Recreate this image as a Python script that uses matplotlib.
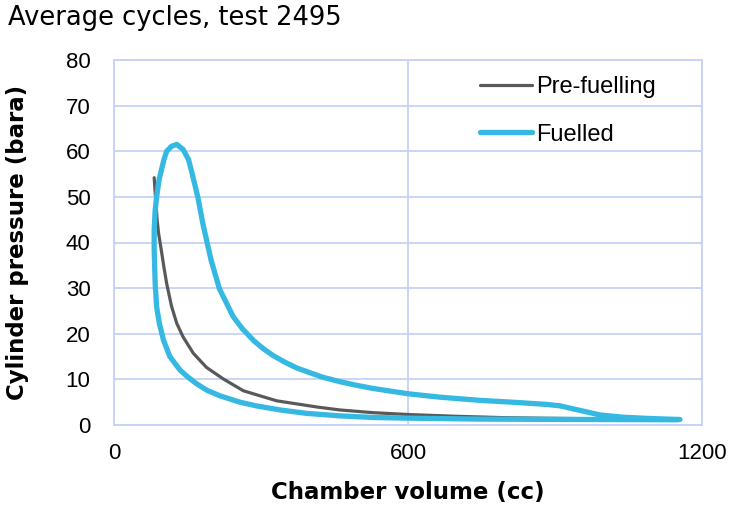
import matplotlib
matplotlib.use("Agg")
import matplotlib.pyplot as plt
from matplotlib.lines import Line2D

# ---- data ----
pre_volume = [82, 84, 86, 88, 91, 94, 97, 102, 107.5, 117.5, 128, 141, 162, 189, 223,
              264, 332, 417, 461, 529, 600, 700, 800, 900, 1000, 1100, 1150]
pre_pressure = [54.2, 51, 48, 45, 42, 40, 38, 34.5, 31, 26, 22.3, 19.3, 15.7, 12.6, 10.1,
                7.5, 5.3, 3.9, 3.3, 2.7, 2.3, 1.9, 1.6, 1.45, 1.35, 1.25, 1.2]

fuel_volume = [1150, 1000, 850, 743, 600, 529, 461, 393, 339, 290, 257, 216, 190, 169,
               152, 135, 114, 101, 92.5, 87, 84, 82, 82, 84, 87, 92, 97, 102, 107.5,
               117.5, 128, 141, 152, 159, 171, 181, 190, 198, 215, 243, 262, 285, 305,
               325, 350, 373, 425, 461, 495, 529, 600, 665, 747, 820, 884, 910, 951,
               992, 1040, 1088, 1155]
fuel_pressure = [1.15, 1.2, 1.25, 1.3, 1.5, 1.65, 2.0, 2.55, 3.3, 4.2, 5.0, 6.4, 7.6, 9.0,
                 10.4, 12.0, 15, 18.6, 22.3, 25.9, 31, 38.4, 42.8, 47, 50, 53.8, 56, 58.2,
                 60, 61.1, 61.5, 60.4, 58.2, 55.3, 50, 44.3, 40, 36.2, 29.9, 23.8, 21.1,
                 18.5, 16.7, 15.2, 13.7, 12.5, 10.5, 9.5, 8.7, 8.0, 6.85, 6.1, 5.4, 4.95,
                 4.5, 4.2, 3.2, 2.2, 1.7, 1.45, 1.2]

x_ticks = [0, 600, 1200]
y_ticks = [0, 10, 20, 30, 40, 50, 60, 70, 80]

title = "Average cycles, test 2495"
x_label = "Chamber volume (cc)"
y_label = "Cylinder pressure (bara)"
series_names = ["Pre-fuelling", "Fuelled"]

# ---- style ----
grid_col = "#c5d2f7"
gray = "#595959"
blue = "#35b9e2"
tick_font = "Liberation Sans"
label_font = "DejaVu Sans"

fig = plt.figure(figsize=(7.35, 5.07), dpi=100)
ax = fig.add_axes([114/735, 1-425/507, (702-114)/735, (425-60)/507])

ax.plot(pre_volume, pre_pressure, color=gray, lw=2.3, solid_capstyle="round",
        solid_joinstyle="round", zorder=3)
ax.plot(fuel_volume, fuel_pressure, color=blue, lw=3.8, solid_capstyle="round",
        solid_joinstyle="round", zorder=4)

ax.set_xlim(0, 1200)
ax.set_ylim(0, 80)
ax.set_xticks(x_ticks)
ax.set_yticks(y_ticks)
ax.grid(True, color=grid_col, lw=1.3, zorder=0)
for s in ax.spines.values():
    s.set_color(grid_col)
    s.set_linewidth(1.3)
ax.tick_params(length=0, labelsize=16, colors="black")
ax.tick_params(axis="x", pad=13)
ax.tick_params(axis="y", pad=17)
for lbl in ax.get_xticklabels() + ax.get_yticklabels():
    lbl.set_fontfamily(tick_font)

handles = [Line2D([0], [0], color=gray, lw=2.3, solid_capstyle="round"),
           Line2D([0], [0], color=blue, lw=3.8, solid_capstyle="round")]
leg = ax.legend(handles, series_names, loc="upper right", frameon=False,
                prop={"family": tick_font, "size": 17}, handlelength=2.2,
                handletextpad=0.2, labelspacing=1.08,
                bbox_to_anchor=(0.958, 1.014))

fig.text(8/735, 1-18/507, title, fontsize=18.5, family=label_font, va="center", ha="left")
fig.text(408/735, 1-492/507, x_label, fontsize=16.5, family=label_font, weight="bold",
         va="center", ha="center")
fig.text(18/735, 1-242/507, y_label, fontsize=16.5, family=label_font, weight="bold",
         va="center", ha="center", rotation=90)

fig.savefig("out.png", dpi=100)
